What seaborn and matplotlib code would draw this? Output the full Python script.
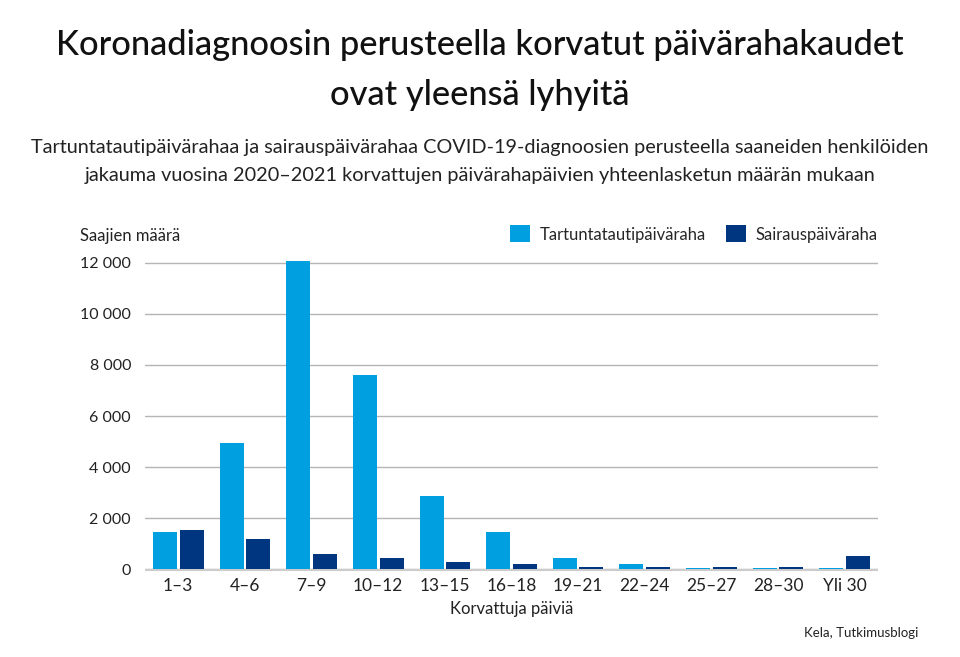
import matplotlib
matplotlib.use("Agg")
import matplotlib.pyplot as plt
import matplotlib.transforms as mtransforms
import seaborn as sns
import pandas as pd

categories = ["1–3", "4–6", "7–9", "10–12", "13–15", "16–18", "19–21", "22–24", "25–27", "28–30", "Yli 30"]
tartunta = [1450, 4960, 12050, 7620, 2890, 1450, 430, 220, 70, 40, 55]
sairaus = [1560, 1210, 625, 430, 280, 200, 100, 90, 85, 80, 510]
series_names = ["Tartuntatautipäiväraha", "Sairauspäiväraha"]
yticks = [0, 2000, 4000, 6000, 8000, 10000, 12000]
ytick_labels = ["0", "2 000", "4 000", "6 000", "8 000", "10 000", "12 000"]

df = pd.DataFrame({
    "cat": categories * 2,
    "val": tartunta + sairaus,
    "series": [series_names[0]] * len(categories) + [series_names[1]] * len(categories),
})

sns.set_theme(style="white")
FONT = ["Lato", "DejaVu Sans"]
plt.rcParams["font.family"] = FONT

fig = plt.figure(figsize=(9.6, 6.57), dpi=100)
ax = fig.add_axes([0.151, 0.1332, 0.7636, 0.4711])

sns.barplot(data=df, x="cat", y="val", hue="series", order=categories,
            hue_order=series_names, palette=["#009FDF", "#003580"],
            width=0.8, gap=0.1, ax=ax, saturation=1, legend=True, zorder=3,
            linewidth=0, edgecolor="none")

ax.set_xlim(-0.5, len(categories) - 0.5)
ax.set_ylim(0, 12100)
ax.set_yticks(yticks)
ax.set_yticklabels(ytick_labels)
ax.yaxis.grid(True, color="#b5b5b5", linewidth=1)
ax.set_axisbelow(True)
for s in ["top", "right", "left", "bottom"]:
    ax.spines[s].set_visible(False)
# baseline drawn just below the zero level
base_tr = mtransforms.offset_copy(ax.get_yaxis_transform(), fig=fig, y=-1.0, units="dots")
ax.plot([0, 1], [0, 0], transform=base_tr, color="#cccccc", lw=1.5, clip_on=False, zorder=1,
        solid_capstyle="butt")

ax.tick_params(axis="y", length=0, labelsize=11.5, colors="#222222", pad=10)
ax.tick_params(axis="x", length=0, labelsize=12.5, colors="#222222", pad=6)
ax.set_ylabel("")
ax.set_xlabel("Korvattuja päiviä", fontsize=12, color="#222222", labelpad=5)

leg = ax.legend(loc="center right", bbox_to_anchor=(1.0, 1 + 26 / 309.5), ncol=2, frameon=False,
                fontsize=12, handlelength=1.2, handleheight=1.2, handletextpad=0.6,
                columnspacing=1.2, borderaxespad=0, borderpad=0)

fig.text(80 / 960, 1 - 236 / 657, "Saajien määrä", fontsize=12, color="#222222", va="center", ha="left")

fig.text(0.5, 1 - 45 / 657, "Koronadiagnoosin perusteella korvatut päivärahakaudet",
         fontsize=24.8, ha="center", va="center", color="#111111", fontweight="medium")
fig.text(0.5, 1 - 95 / 657, "ovat yleensä lyhyitä",
         fontsize=24.8, ha="center", va="center", color="#111111", fontweight="medium")
fig.text(0.5, 1 - 148 / 657,
         "Tartuntatautipäivärahaa ja sairauspäivärahaa COVID-19-diagnoosien perusteella saaneiden henkilöiden",
         fontsize=14.3, ha="center", va="center", color="#222222")
fig.text(0.5, 1 - 176 / 657,
         "jakauma vuosina 2020–2021 korvattujen päivärahapäivien yhteenlasketun määrän mukaan",
         fontsize=14.3, ha="center", va="center", color="#222222")
fig.text(918 / 960, 1 - 633 / 657, "Kela, Tutkimusblogi", fontsize=9.5, ha="right", va="center", color="#222222")

fig.savefig("out.png", dpi=100)
